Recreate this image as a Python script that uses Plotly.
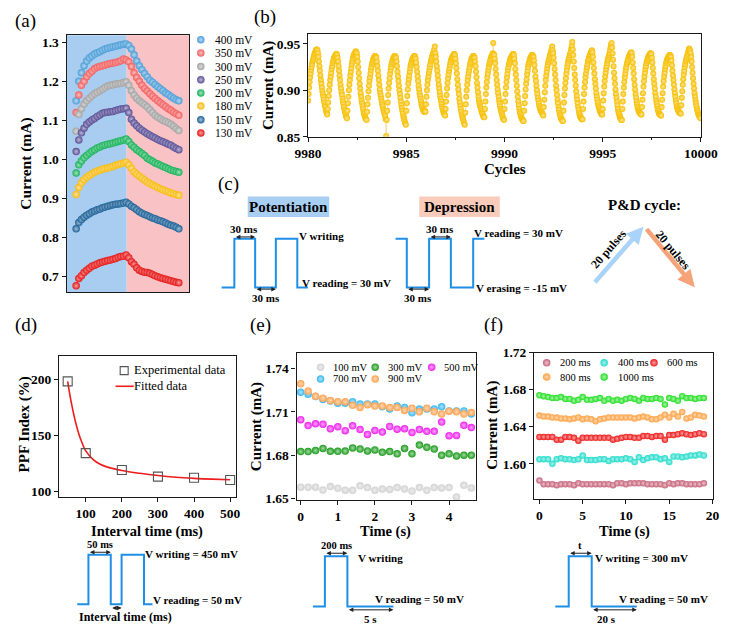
import numpy as np
import plotly.graph_objects as go

W, H = 739, 632
SERIF = "Liberation Serif, Times New Roman, Times, serif"
INK = "#1a1a1a"
PULSE = "#1e8fe6"

# ---------------- (a) P&D curves, 20 up + 20 down pulses ----------------
a_pulse = list(range(1, 41))
a_labels = ["400 mV", "350 mV", "300 mV", "250 mV", "200 mV", "180 mV", "150 mV", "130 mV"]
a_colors = ["#4c9ed8", "#f26060", "#a4a4a4", "#5a5096", "#19b35a", "#f7bb12", "#1d6298", "#e61818"]
a_400 = [1.150, 1.200, 1.222, 1.240, 1.252, 1.260, 1.265, 1.270, 1.273, 1.276, 1.280, 1.283, 1.285, 1.287, 1.289, 1.290, 1.292, 1.294, 1.295, 1.296,
         1.292, 1.283, 1.268, 1.252, 1.240, 1.230, 1.220, 1.212, 1.203, 1.198, 1.192, 1.186, 1.181, 1.176, 1.170, 1.166, 1.161, 1.157, 1.153, 1.150]
a_350 = [1.120, 1.165, 1.190, 1.200, 1.212, 1.220, 1.226, 1.232, 1.236, 1.238, 1.240, 1.242, 1.244, 1.246, 1.247, 1.248, 1.250, 1.253, 1.257, 1.255,
         1.250, 1.238, 1.222, 1.210, 1.200, 1.190, 1.182, 1.175, 1.168, 1.162, 1.156, 1.150, 1.145, 1.140, 1.135, 1.130, 1.126, 1.121, 1.117, 1.113]
a_300 = [1.072, 1.115, 1.130, 1.142, 1.150, 1.157, 1.163, 1.168, 1.172, 1.176, 1.180, 1.184, 1.188, 1.190, 1.191, 1.193, 1.194, 1.195, 1.197, 1.199,
         1.190, 1.176, 1.165, 1.157, 1.150, 1.145, 1.140, 1.134, 1.127, 1.120, 1.113, 1.108, 1.104, 1.100, 1.097, 1.094, 1.090, 1.085, 1.079, 1.074]
a_250 = [1.020, 1.050, 1.068, 1.080, 1.090, 1.096, 1.101, 1.105, 1.110, 1.114, 1.118, 1.120, 1.121, 1.122, 1.123, 1.125, 1.127, 1.129, 1.130, 1.131,
         1.120, 1.103, 1.093, 1.086, 1.080, 1.075, 1.070, 1.066, 1.062, 1.058, 1.055, 1.051, 1.048, 1.045, 1.042, 1.039, 1.036, 1.032, 1.028, 1.025]
a_200 = [0.965, 0.986, 0.996, 1.004, 1.010, 1.016, 1.021, 1.025, 1.029, 1.032, 1.035, 1.037, 1.039, 1.040, 1.042, 1.044, 1.046, 1.048, 1.050, 1.052,
         1.046, 1.037, 1.031, 1.025, 1.020, 1.015, 1.010, 1.003, 0.999, 0.995, 0.991, 0.988, 0.985, 0.982, 0.979, 0.976, 0.973, 0.971, 0.969, 0.967]
a_180 = [0.910, 0.928, 0.940, 0.948, 0.954, 0.959, 0.963, 0.967, 0.970, 0.972, 0.975, 0.977, 0.978, 0.980, 0.982, 0.985, 0.987, 0.989, 0.991, 0.993,
         0.986, 0.977, 0.968, 0.962, 0.957, 0.952, 0.947, 0.942, 0.938, 0.935, 0.931, 0.928, 0.925, 0.922, 0.919, 0.917, 0.914, 0.912, 0.910, 0.908]
a_150 = [0.822, 0.838, 0.846, 0.852, 0.857, 0.861, 0.865, 0.868, 0.871, 0.873, 0.876, 0.878, 0.880, 0.882, 0.884, 0.885, 0.886, 0.887, 0.888, 0.890,
         0.886, 0.880, 0.876, 0.871, 0.866, 0.862, 0.859, 0.856, 0.853, 0.850, 0.848, 0.845, 0.843, 0.840, 0.837, 0.834, 0.831, 0.829, 0.826, 0.822]
a_130 = [0.676, 0.695, 0.702, 0.710, 0.716, 0.721, 0.726, 0.729, 0.732, 0.735, 0.737, 0.739, 0.741, 0.742, 0.744, 0.746, 0.749, 0.751, 0.752, 0.755,
         0.748, 0.738, 0.731, 0.722, 0.716, 0.713, 0.711, 0.710, 0.708, 0.705, 0.702, 0.699, 0.697, 0.695, 0.693, 0.691, 0.689, 0.687, 0.685, 0.684]
a_series = [a_400, a_350, a_300, a_250, a_200, a_180, a_150, a_130]

# ---------------- (b) last 20 P&D cycles (current in uA) ----------------
b_current_uA = [
    889, 896, 903, 909, 914, 918, 922, 925, 928, 931, 933, 935, 937, 939, 940, 942, 943, 944, 944, 943,
    940, 936, 931, 926, 921, 916, 911, 907, 903, 899, 896, 893, 890, 887, 884, 882, 879, 877, 875, 874,
    880, 887, 894, 900, 906, 911, 915, 919, 923, 926, 929, 931, 933, 935, 936, 937, 938, 939, 939, 938,
    935, 931, 926, 921, 916, 911, 906, 902, 898, 895, 891, 888, 885, 882, 879, 877, 875, 873, 871, 870,
    878, 886, 893, 900, 906, 911, 916, 920, 924, 928, 931, 934, 936, 938, 939, 940, 941, 942, 941, 940,
    936, 931, 925, 919, 913, 907, 902, 897, 893, 889, 886, 883, 880, 877, 875, 873, 871, 870, 869, 868,
    877, 885, 892, 899, 905, 910, 914, 918, 922, 925, 928, 930, 932, 934, 935, 936, 937, 937, 936, 935,
    931, 926, 921, 916, 911, 906, 901, 897, 894, 891, 888, 885, 883, 880, 878, 876, 874, 872, 869, 851,
    868, 878, 887, 895, 902, 908, 913, 918, 922, 925, 928, 930, 932, 934, 935, 936, 937, 937, 936, 935,
    931, 926, 920, 915, 910, 905, 900, 896, 892, 888, 884, 881, 878, 875, 872, 870, 868, 866, 864, 863,
    878, 886, 894, 901, 907, 912, 916, 920, 924, 927, 929, 931, 933, 934, 935, 936, 937, 937, 936, 934,
    930, 925, 920, 915, 910, 905, 901, 897, 894, 891, 888, 885, 883, 881, 879, 878, 877, 877, 878, 877,
    885, 893, 900, 906, 911, 915, 919, 922, 925, 928, 931, 933, 935, 937, 939, 940, 942, 944, 947, 940,
    936, 931, 926, 921, 916, 911, 906, 902, 898, 894, 891, 888, 885, 882, 880, 878, 876, 875, 874, 873,
    880, 888, 895, 902, 908, 913, 917, 921, 924, 927, 930, 932, 934, 935, 936, 937, 938, 939, 939, 938,
    934, 929, 924, 918, 912, 906, 901, 896, 891, 887, 883, 880, 877, 874, 872, 870, 868, 866, 864, 863,
    876, 885, 893, 900, 906, 911, 915, 919, 922, 925, 928, 930, 932, 934, 935, 936, 937, 937, 936, 935,
    931, 926, 920, 914, 908, 903, 898, 893, 889, 886, 884, 882, 880, 878, 876, 875, 873, 872, 871, 871,
    880, 888, 896, 903, 909, 914, 918, 922, 925, 928, 930, 932, 934, 936, 937, 938, 940, 951, 939, 938,
    934, 929, 923, 917, 911, 906, 901, 897, 893, 889, 886, 883, 880, 878, 876, 874, 872, 870, 869, 868,
    880, 888, 896, 903, 909, 914, 918, 922, 925, 928, 930, 932, 934, 935, 936, 937, 938, 939, 939, 938,
    934, 929, 923, 917, 911, 905, 899, 893, 888, 884, 880, 877, 875, 873, 871, 870, 869, 868, 867, 867,
    878, 886, 894, 901, 907, 912, 917, 921, 925, 928, 930, 932, 934, 935, 936, 937, 938, 938, 937, 936,
    932, 927, 921, 915, 910, 905, 900, 896, 892, 889, 886, 883, 881, 879, 878, 877, 876, 875, 874, 873,
    882, 890, 898, 905, 911, 916, 920, 924, 927, 930, 932, 934, 936, 938, 940, 942, 944, 947, 943, 940,
    935, 929, 923, 917, 911, 905, 900, 895, 890, 886, 882, 879, 876, 874, 872, 870, 869, 868, 867, 867,
    878, 887, 895, 902, 908, 913, 918, 922, 926, 929, 932, 934, 936, 938, 940, 942, 945, 948, 952, 944,
    938, 931, 924, 917, 911, 905, 899, 894, 890, 886, 882, 879, 876, 874, 872, 871, 870, 869, 869, 869,
    880, 888, 896, 903, 909, 914, 918, 922, 925, 928, 931, 933, 935, 937, 938, 939, 941, 942, 943, 941,
    936, 930, 924, 918, 912, 907, 902, 897, 893, 890, 887, 884, 882, 880, 878, 877, 876, 875, 874, 874,
    880, 889, 897, 904, 910, 915, 919, 923, 926, 929, 932, 934, 936, 938, 940, 943, 946, 949, 951, 946,
    940, 933, 926, 919, 913, 907, 901, 896, 892, 888, 884, 880, 877, 875, 873, 871, 870, 869, 868, 868,
    880, 888, 896, 903, 909, 914, 918, 922, 925, 928, 930, 932, 934, 936, 937, 938, 939, 940, 941, 940,
    936, 930, 924, 918, 912, 906, 901, 896, 892, 888, 885, 882, 880, 878, 877, 876, 875, 875, 874, 874,
    882, 890, 897, 904, 910, 915, 919, 923, 926, 929, 931, 933, 935, 936, 937, 938, 939, 940, 940, 939,
    935, 930, 924, 918, 912, 907, 902, 897, 893, 889, 886, 883, 880, 878, 876, 875, 874, 874, 873, 873,
    882, 890, 897, 904, 910, 915, 919, 923, 926, 929, 931, 933, 934, 935, 936, 937, 938, 938, 937, 936,
    932, 927, 921, 916, 911, 906, 901, 897, 893, 889, 886, 883, 881, 879, 878, 877, 876, 876, 875, 875,
    884, 892, 899, 906, 912, 917, 921, 925, 928, 931, 933, 935, 937, 939, 941, 943, 945, 944, 942, 940,
    936, 931, 925, 919, 913, 907, 902, 897, 893, 889, 886, 883, 880, 878, 876, 874, 873, 872, 871, 870,
]
b_first_cycle = 9980
b_points_per_cycle = 40

# ---------------- (d) PPF ----------------
d_interval = [50, 100, 200, 300, 400, 500]
d_ppf = [198, 134, 119, 113, 112, 110]
d_fit_x = [50, 55, 60, 70, 80, 90, 100, 120, 140, 160, 200, 250, 300, 350, 400, 450, 500]
d_fit_y = [198, 188, 179, 164, 152, 143, 136, 128.5, 124, 121.5, 118.5, 116, 114, 112.5, 111.5, 110.8, 110.3]

# ---------------- (e) retention vs writing voltage ----------------
e_time = [0, 0.2, 0.4, 0.6, 0.8, 1.0, 1.2, 1.4, 1.6, 1.8, 2.0, 2.2, 2.4, 2.6, 2.8, 3.0, 3.2, 3.4, 3.6, 3.8, 4.0, 4.2, 4.4, 4.6]
e_labels = ["100 mV", "300 mV", "500 mV", "700 mV", "900 mV"]
e_colors = ["#d2d2d2", "#1c9c1c", "#ee22ee", "#3ab8f0", "#ffa24e"]
e_100 = [1.6579, 1.6579, 1.6579, 1.6560, 1.6583, 1.6572, 1.6558, 1.6558, 1.6588, 1.6576, 1.6558, 1.6567,
         1.6563, 1.6576, 1.6567, 1.6552, 1.6576, 1.6558, 1.6576, 1.6574, 1.6576, 1.6511, 1.6592, 1.6574]
e_300 = [1.6825, 1.6825, 1.6832, 1.6847, 1.6827, 1.6827, 1.6829, 1.6850, 1.6843, 1.6830, 1.6836, 1.6820,
         1.6825, 1.6810, 1.6847, 1.6810, 1.6870, 1.6855, 1.6843, 1.6800, 1.6810, 1.6795, 1.6800, 1.6800]
e_500 = [1.7046, 1.7005, 1.7017, 1.7014, 1.6983, 1.6997, 1.6970, 1.7003, 1.6978, 1.6944, 1.6971, 1.6960,
         1.6999, 1.6980, 1.6983, 1.6958, 1.6978, 1.6965, 1.6965, 1.7030, 1.6935, 1.6937, 1.7007, 1.6991]
e_700 = [1.7235, 1.7222, 1.7206, 1.7186, 1.7175, 1.7160, 1.7160, 1.7170, 1.7155, 1.7155, 1.7155, 1.7135,
         1.7120, 1.7140, 1.7130, 1.7093, 1.7120, 1.7120, 1.7120, 1.7135, 1.7106, 1.7106, 1.7106, 1.7085]
e_900 = [1.7294, 1.7244, 1.7208, 1.7195, 1.7179, 1.7170, 1.7170, 1.7145, 1.7130, 1.7150, 1.7140, 1.7140,
         1.7130, 1.7130, 1.7110, 1.7125, 1.7100, 1.7125, 1.7100, 1.7085, 1.7105, 1.7100, 1.7085, 1.7095]
e_series = [e_100, e_300, e_500, e_700, e_900]

# ---------------- (f) retention vs pulse width ----------------
f_time = [0, 0.5, 1, 1.5, 2, 2.5, 3, 3.5, 4, 4.5, 5, 5.5, 6, 6.5, 7, 7.5, 8, 8.5, 9, 9.5,
          10, 10.5, 11, 11.5, 12, 12.5, 13, 13.5, 14, 14.5, 15, 15.5, 16, 16.5, 17, 17.5, 18, 18.5, 19]
f_labels = ["200 ms", "400 ms", "600 ms", "800 ms", "1000 ms"]
f_colors = ["#c8667c", "#24dccc", "#ee1c1c", "#ffa244", "#26e026"]
f_200 = [1.582, 1.578, 1.578, 1.578, 1.577, 1.578, 1.578, 1.578, 1.577, 1.579,
         1.578, 1.578, 1.578, 1.578, 1.578, 1.578, 1.578, 1.577, 1.579, 1.579,
         1.578, 1.579, 1.579, 1.579, 1.579, 1.578, 1.578, 1.578, 1.578, 1.577,
         1.579, 1.578, 1.579, 1.579, 1.578, 1.578, 1.578, 1.578, 1.579]
f_400 = [1.605, 1.605, 1.605, 1.600, 1.605, 1.606, 1.605, 1.605, 1.604, 1.605,
         1.609, 1.604, 1.604, 1.604, 1.605, 1.605, 1.603, 1.605, 1.605, 1.605,
         1.606, 1.605, 1.602, 1.607, 1.604, 1.606, 1.607, 1.607, 1.605, 1.606,
         1.602, 1.608, 1.608, 1.607, 1.608, 1.609, 1.609, 1.610, 1.609]
f_600 = [1.629, 1.629, 1.629, 1.629, 1.626, 1.626, 1.629, 1.629, 1.628, 1.625,
         1.628, 1.628, 1.628, 1.628, 1.628, 1.628, 1.628, 1.626, 1.627, 1.628,
         1.629, 1.629, 1.628, 1.628, 1.630, 1.630, 1.629, 1.630, 1.630, 1.626,
         1.631, 1.631, 1.632, 1.633, 1.632, 1.631, 1.632, 1.633, 1.632]
f_800 = [1.652, 1.651, 1.651, 1.650, 1.650, 1.649, 1.649, 1.648, 1.649, 1.650,
         1.648, 1.649, 1.648, 1.646, 1.648, 1.649, 1.650, 1.650, 1.650, 1.650,
         1.650, 1.650, 1.649, 1.650, 1.651, 1.650, 1.648, 1.648, 1.650, 1.653,
         1.650, 1.654, 1.651, 1.656, 1.649, 1.650, 1.653, 1.652, 1.651]
f_1000 = [1.674, 1.673, 1.672, 1.671, 1.671, 1.672, 1.670, 1.670, 1.668, 1.669,
          1.672, 1.669, 1.669, 1.670, 1.671, 1.668, 1.670, 1.668, 1.669, 1.668,
          1.670, 1.671, 1.670, 1.668, 1.671, 1.670, 1.670, 1.671, 1.670, 1.664,
          1.671, 1.670, 1.668, 1.673, 1.671, 1.671, 1.670, 1.671, 1.671]
f_series = [f_200, f_400, f_600, f_800, f_1000]


# ====================================================================
def tint(hexc, f=0.6):
    r, g, b = int(hexc[1:3], 16), int(hexc[3:5], 16), int(hexc[5:7], 16)
    r, g, b = [int(v + (255 - v) * f) for v in (r, g, b)]
    return f"rgb({r},{g},{b})"


def ball(color, size):
    return dict(color=color, size=size, gradient=dict(type="radial", color=tint(color)), line=dict(width=0))


fig = go.Figure()

# (a)
for lab, col, vals in zip(a_labels, a_colors, a_series):
    fig.add_trace(go.Scatter(x=a_pulse, y=vals, mode="markers", name=lab, marker=ball(col, 7.5),
                             xaxis="x", yaxis="y", showlegend=False))

# (b)
b_cycle = b_first_cycle + np.arange(len(b_current_uA)) / b_points_per_cycle
fig.add_trace(go.Scatter(x=b_cycle, y=np.array(b_current_uA) / 1000.0, mode="lines+markers",
                         line=dict(color="#f1cf6e", width=0.6), marker=ball("#f7bf00", 6),
                         xaxis="x2", yaxis="y2", showlegend=False))

# (d)
fig.add_trace(go.Scatter(x=d_fit_x, y=d_fit_y, mode="lines", line=dict(color="#f01c1c", width=1.6, shape="spline"),
                         xaxis="x3", yaxis="y3", showlegend=False))
fig.add_trace(go.Scatter(x=d_interval, y=d_ppf, mode="markers",
                         marker=dict(symbol="square-open", size=9, color="#555555", line=dict(width=1.1)),
                         xaxis="x3", yaxis="y3", showlegend=False))

# (e)
for lab, col, vals in zip(e_labels, e_colors, e_series):
    fig.add_trace(go.Scatter(x=e_time, y=vals, mode="markers", name=lab, marker=ball(col, 7.5),
                             xaxis="x4", yaxis="y4", showlegend=False))

# (f)
for lab, col, vals in zip(f_labels, f_colors, f_series):
    fig.add_trace(go.Scatter(x=f_time, y=vals, mode="markers", name=lab, marker=ball(col, 6.5),
                             xaxis="x5", yaxis="y5", showlegend=False))

# -------- hand-drawn legends (positions in page pixels on overlay axis) ---------
ann = []
shapes = []


def txt(x, y, s, size=11, bold=True, anchor="left", angle=0, color="black"):
    ann.append(dict(x=x, y=y, xref="x6", yref="y6", text=s, showarrow=False, xanchor=anchor, yanchor="middle",
                    textangle=angle, borderpad=0,
                    font=dict(family=SERIF, size=size, color=color, weight="bold" if bold else "normal")))


leg_x, leg_y, leg_c = [], [], []
# (a) legend
a_leg_y = [33.5, 47, 61, 74.5, 88, 101.5, 115.5, 129]
for lab, col, yy in zip(a_labels, a_colors, a_leg_y):
    leg_x.append(195); leg_y.append(yy); leg_c.append(col)
    txt(209, yy, lab, size=11.5, bold=False)
# (e) legend
e_leg_pos = [(320, 369), (377, 369), (436, 369), (320, 381), (377, 381)]
for lab, col, (xx, yy) in zip(e_labels, e_colors, e_leg_pos):
    leg_x.append(xx); leg_y.append(yy); leg_c.append(col)
    txt(xx + 12, yy, lab, size=10.5, bold=False)
# (f) legend
f_leg_pos = [(556, 364.5), (616, 364.5), (668, 364.5), (556, 379), (616, 379)]
for lab, col, (xx, yy) in zip(f_labels, f_colors, f_leg_pos):
    leg_x.append(xx); leg_y.append(yy); leg_c.append(col)
    txt(xx + 13, yy, lab, size=10.5, bold=False)

fig.add_trace(go.Scatter(x=leg_x, y=leg_y, mode="markers",
                         marker=dict(color=leg_c, size=7.5, line=dict(width=0),
                                     gradient=dict(type="radial", color=[tint(c) for c in leg_c])),
                         xaxis="x6", yaxis="y6", showlegend=False, hoverinfo="skip"))
# (d) legend
fig.add_trace(go.Scatter(x=[115], y=[372.5], mode="markers",
                         marker=dict(symbol="square-open", size=8, color="#555555", line=dict(width=1.1)),
                         xaxis="x6", yaxis="y6", showlegend=False, hoverinfo="skip"))
txt(124, 372, "Experimental data", size=12.5, bold=False)
shapes.append(dict(type="line", xref="x6", yref="y6", x0=106, x1=125, y0=388.5, y1=388.5,
                   line=dict(color="#f01c1c", width=1.6)))
txt(124, 388, "Fitted data", size=12.5, bold=False)

# -------- panel labels & axis titles --------
for s, x, y in [("(a)", 12, 14), ("(b)", 262, 10), ("(c)", 224, 181), ("(d)", 13, 326), ("(e)", 257, 326),
                ("(f)", 500, 326)]:
    txt(x, y, s, size=19, bold=False, anchor="center")

txt(13, 160, "Current (mA)", size=15.5, anchor="center", angle=-90)
txt(265, 80, "Current (mA)", size=15, anchor="center", angle=-90)
txt(512, 166, "Cycles", size=15, anchor="center")
txt(11, 428, "PPF Index (%)", size=15, anchor="center", angle=-90)
txt(139, 537, "Interval time (ms)", size=14.5, anchor="center")
txt(253, 430, "Current (mA)", size=15, anchor="center", angle=-90)
txt(388, 537, "Time (s)", size=14.5, anchor="center")
txt(500, 429, "Current (mA)", size=15, anchor="center", angle=-90)
txt(637, 537, "Time (s)", size=14.5, anchor="center")

# (a) shaded potentiation / depression areas
shapes.append(dict(type="rect", xref="x", yref="y domain", x0=-2.6, x1=20.2, y0=0, y1=1,
                   fillcolor="#a9cdf1", line=dict(width=0), layer="below"))
shapes.append(dict(type="rect", xref="x", yref="y domain", x0=20.2, x1=44, y0=0, y1=1,
                   fillcolor="#f9c2c4", line=dict(width=0), layer="below"))


# -------- schematics --------
def pulse(pts, color=PULSE, width=2):
    p = "M " + " L ".join(f"{x},{y}" for x, y in pts)
    shapes.append(dict(type="path", xref="x6", yref="y6", path=p, line=dict(color=color, width=width)))


def darrow(x0, x1, y):
    ann.append(dict(x=x1, y=y, ax=x0, ay=y, xref="x6", yref="y6", axref="x6", ayref="y6", text="",
                    showarrow=True, arrowhead=2, arrowside="end+start", arrowsize=0.9, arrowwidth=1,
                    arrowcolor="#222222", standoff=0, startstandoff=0))


# (c) boxes and titles
shapes.append(dict(type="rect", xref="x6", yref="y6", x0=244, x1=329, y0=194, y1=215,
                   fillcolor="#a8cff3", line=dict(width=0)))
shapes.append(dict(type="rect", xref="x6", yref="y6", x0=423, x1=507, y0=194, y1=215,
                   fillcolor="#f9cbbb", line=dict(width=0)))
txt(286.5, 204.5, "Potentiation", size=15, anchor="center")
txt(465, 204.5, "Depression", size=15, anchor="center")
txt(658, 203, "P&D cycle:", size=15, anchor="center")

# potentiation pulses
pulse([(216.7, 287.3), (230, 287.3), (230, 237.3), (251.7, 237.3), (251.7, 287.3), (273.3, 287.3),
       (273.3, 237.3), (295.7, 237.3), (295.7, 287.3), (306.7, 287.3)])
darrow(230, 251.7, 235.5)
txt(240.5, 227, "30 ms", size=11, anchor="center")
darrow(251.7, 273.3, 289)
txt(263, 298.5, "30 ms", size=11, anchor="center")
txt(296, 235, "V writing", size=11)
txt(300, 283, "V reading = 30 mV", size=11)

# depression pulses
pulse([(398.3, 237.3), (410, 237.3), (410, 287.3), (433.3, 287.3), (433.3, 237.3), (456, 237.3),
       (456, 287.3), (479.3, 287.3), (479.3, 237.3), (491, 237.3)])
darrow(433.3, 456, 235.5)
txt(445, 227, "30 ms", size=11, anchor="center")
darrow(410, 433.3, 289)
txt(421.7, 298.5, "30 ms", size=11, anchor="center")
txt(479, 231.5, "V reading = 30 mV", size=11)
txt(481.5, 287.5, "V erasing = -15 mV", size=11)

# P&D cycle arrows
ann.append(dict(x=657, y=225, ax=605, ay=283.5, xref="x6", yref="y6", axref="x6", ayref="y6", text="",
                showarrow=True, arrowhead=2, arrowsize=0.75, arrowwidth=4.5, arrowcolor="#a9d3f8", standoff=0))
ann.append(dict(x=710.5, y=287, ax=659, ay=226, xref="x6", yref="y6", axref="x6", ayref="y6", text="",
                showarrow=True, arrowhead=2, arrowsize=0.75, arrowwidth=4.5, arrowcolor="#f6a37a", standoff=0))
txt(620.5, 247.5, "20 pulses", size=12, anchor="center", angle=-49)
txt(688, 248.5, "20 pulses", size=12, anchor="center", angle=50)

# (d) schematic
pulse([(66, 611.7), (77.7, 611.7), (77.7, 561), (101, 561), (101, 611.7), (112.3, 611.7), (112.3, 561),
       (135.7, 561), (135.7, 611.7), (144.5, 611.7)])
darrow(77.7, 101, 558.5)
txt(90, 550.5, "50 ms", size=10.5, anchor="center")
txt(136, 560.5, "V writing = 450 mV", size=11)
txt(144, 607, "V reading = 50 mV", size=11)
darrow(101, 112.3, 615.5)
txt(116, 625, "Interval time (ms)", size=12, anchor="center")

# (e) schematic
pulse([(312, 614), (324.5, 614), (324.5, 562.7), (348, 562.7), (348, 614), (396, 614)])
darrow(324.5, 348, 559.5)
txt(336.5, 551.5, "200 ms", size=10.5, anchor="center")
txt(358, 564, "V writing", size=11)
txt(376, 606.5, "V reading = 50 mV", size=11)
darrow(348, 396, 617.5)
txt(372.5, 627, "5 s", size=11, anchor="center")

# (f) schematic
pulse([(565, 614), (579, 614), (579, 562.7), (603, 562.7), (603, 614), (650, 614)])
darrow(579, 603, 559.5)
txt(591, 551.5, "t", size=10.5, anchor="center")
txt(605.5, 564, "V writing = 300 mV", size=11)
txt(630, 606.5, "V reading = 50 mV", size=11)
darrow(603, 650, 617.5)
txt(618, 627, "20 s", size=11, anchor="center")


# -------- axes --------
def frame(**kw):
    d = dict(showline=True, linecolor=INK, linewidth=1.3, mirror=True, ticks="outside", ticklen=4, tickwidth=1.2,
             tickcolor=INK, showgrid=False, zeroline=False, fixedrange=True,
             tickfont=dict(family=SERIF, size=13.5, color="black", weight="bold"))
    d.update(kw)
    return d


def dx(l, r):
    return [l / W, r / W]


def dy(t, b):
    return [1 - b / H, 1 - t / H]


fig.update_layout(
    width=W, height=H, margin=dict(l=0, r=0, t=0, b=0),
    paper_bgcolor="white", plot_bgcolor="rgba(0,0,0,0)", showlegend=False,
    font=dict(family=SERIF),
    xaxis=frame(domain=dx(55, 183), range=[-2.6, 44], showticklabels=False, ticks="", anchor="y"),
    yaxis=frame(domain=dy(29, 292), range=[0.66, 1.318], tickvals=[0.7, 0.8, 0.9, 1.0, 1.1, 1.2, 1.3],
                tickformat=".1f", anchor="x"),
    xaxis2=frame(domain=dx(307, 717), range=[9980, 10000], tickvals=[9980, 9985, 9990, 9995, 10000],
                 tickformat="d", anchor="y2",
                 minor=dict(tickvals=[9982.5, 9987.5, 9992.5, 9997.5], ticks="outside", ticklen=2.5,
                            tickcolor=INK)),
    yaxis2=frame(domain=dy(28, 133), range=[0.85, 0.9602], tickvals=[0.85, 0.90, 0.95], tickformat=".2f",
                 anchor="x2"),
    xaxis3=frame(domain=dx(47, 232), range=[26, 517], tickvals=[100, 200, 300, 400, 500], anchor="y3"),
    yaxis3=frame(domain=dy(357, 502), range=[94.8, 221], tickvals=[100, 150, 200], anchor="x3"),
    xaxis4=frame(domain=dx(295, 482), range=[-0.11, 4.72], tickvals=[0, 1, 2, 3, 4], anchor="y4"),
    yaxis4=frame(domain=dy(354, 505), range=[1.649, 1.751], tickvals=[1.65, 1.68, 1.71, 1.74],
                 tickformat=".2f", anchor="x4"),
    xaxis5=frame(domain=dx(543, 730), range=[-0.6, 20.1], tickvals=[0, 5, 10, 15, 20], anchor="y5"),
    yaxis5=frame(domain=dy(354, 504), range=[1.562, 1.72], tickvals=[1.60, 1.64, 1.68, 1.72],
                 tickformat=".2f", anchor="x5"),
    xaxis6=dict(domain=[0, 1], range=[0, W], visible=False, fixedrange=True, anchor="y6"),
    yaxis6=dict(domain=[0, 1], range=[H, 0], visible=False, fixedrange=True, anchor="x6"),
    annotations=ann, shapes=shapes,
)

fig.write_html("out.html")
